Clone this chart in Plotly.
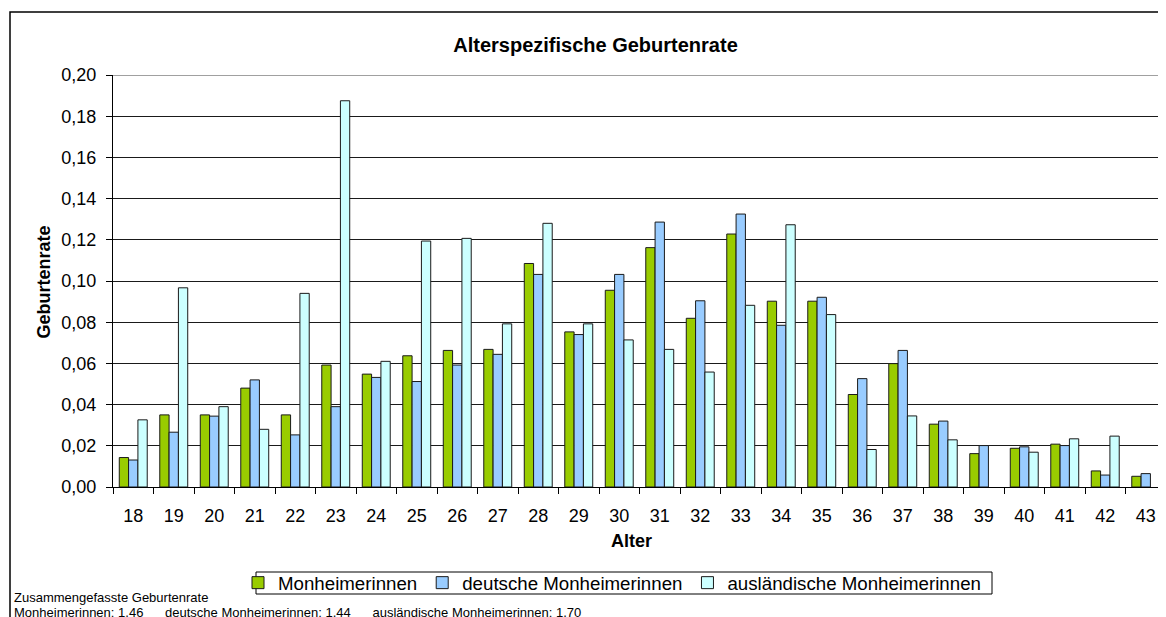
import plotly.graph_objects as go

ages = [str(a) for a in range(18, 44)]

monheimerinnen = [0.0143, 0.0350, 0.0350, 0.0480, 0.0350, 0.0592, 0.0548, 0.0637, 0.0663,
                  0.0668, 0.1085, 0.0753, 0.0955, 0.1162, 0.0819, 0.1228, 0.0902, 0.0902,
                  0.0449, 0.0599, 0.0305, 0.0162, 0.0188, 0.0208, 0.0078, 0.0052]
deutsche = [0.0131, 0.0266, 0.0344, 0.0520, 0.0253, 0.0390, 0.0532, 0.0512, 0.0592,
            0.0644, 0.1032, 0.0740, 0.1032, 0.1286, 0.0904, 0.1325, 0.0785, 0.0921,
            0.0526, 0.0663, 0.0320, 0.0201, 0.0195, 0.0201, 0.0058, 0.0065]
auslaendische = [0.0326, 0.0967, 0.0390, 0.0280, 0.0940, 0.1875, 0.0610, 0.1194, 0.1207,
                 0.0792, 0.1280, 0.0792, 0.0714, 0.0668, 0.0558, 0.0882, 0.1273, 0.0837,
                 0.0182, 0.0345, 0.0229, None, 0.0169, 0.0234, 0.0247, None]

series_names = ["Monheimerinnen", "deutsche Monheimerinnen", "ausländische Monheimerinnen"]
series_colors = ["#99cc00", "#99ccff", "#ccffff"]

gap = "&nbsp;" * 6
summary_title = "Zusammengefasste Geburtenrate"
summary_text = ("Monheimerinnen: 1,46" + gap + "deutsche Monheimerinnen: 1,44" + gap
                + "ausländische Monheimerinnen: 1,70")

FONT = "Liberation Sans, Arial, sans-serif"

# the page body adds an 8px offset, so the figure is 8px smaller and all
# positions below are page pixels mapped onto the plot area (113..1166, 75..487)
W, H = 1158, 609


def px(x):
    return (x - 113) / 1053


def py(y):
    return (487 - y) / 412


fig = go.Figure()
for name, vals, col in zip(series_names, [monheimerinnen, deutsche, auslaendische], series_colors):
    fig.add_trace(go.Bar(
        x=ages, y=vals, name=name,
        marker=dict(color=col, line=dict(color="#1a1a1a", width=1))
    ))

fig.update_layout(
    width=W, height=H,
    margin=dict(l=105, r=0, t=67, b=130),
    paper_bgcolor="white", plot_bgcolor="white",
    font=dict(family=FONT, color="black", size=18),
    separators=",.",
    barmode="group", bargap=0.31, bargroupgap=0,
    title=dict(text="<b>Alterspezifische Geburtenrate</b>", x=(595.5 - 8) / W, xanchor="center",
               y=1 - (45 - 8) / H, yanchor="middle", font=dict(size=20, family=FONT)),
    showlegend=True,
    legend=dict(orientation="h", x=px(238), y=py(583), xanchor="left", yanchor="middle",
                borderwidth=0, bgcolor="rgba(0,0,0,0)",
                font=dict(size=18.7, family=FONT), traceorder="normal"),
    xaxis=dict(type="category", range=[-0.5, 25.5], showline=True, linecolor="black",
               linewidth=1, ticks="outside", tickson="boundaries", ticklen=6,
               tickcolor="black", showgrid=False, tickfont=dict(size=18),
               ticklabelstandoff=12),
    yaxis=dict(range=[0, 0.2], dtick=0.02, tickformat=".2f", showline=True,
               linecolor="black", linewidth=1, ticks="outside", ticklen=6,
               tickcolor="black", showgrid=True, gridcolor="#1a1a1a", gridwidth=1,
               zeroline=False, tickfont=dict(size=18), ticklabelstandoff=6),
    annotations=[
        dict(text="<b>Geburtenrate</b>", textangle=-90, xref="paper", yref="paper",
             x=px(43.5), y=py(282), xanchor="center", yanchor="middle",
             showarrow=False, font=dict(size=18)),
        dict(text="<b>Alter</b>", xref="paper", yref="paper",
             x=px(631), y=py(541), xanchor="center", yanchor="middle",
             showarrow=False, font=dict(size=18)),
        dict(text=summary_title, xref="paper", yref="paper", xanchor="left", yanchor="middle",
             x=px(12), y=py(597), showarrow=False, font=dict(size=13)),
        dict(text=summary_text, xref="paper", yref="paper", xanchor="left", yanchor="middle",
             x=px(12), y=py(612), showarrow=False, font=dict(size=13)),
    ],
    shapes=[
        # outer chart frame (runs off the right and bottom edges)
        dict(type="rect", xref="paper", yref="paper",
             x0=px(10), x1=px(1200), y0=py(650), y1=py(12),
             line=dict(color="black", width=1.5), layer="below"),
        # legend box
        dict(type="rect", xref="paper", yref="paper",
             x0=px(256), x1=px(992), y0=py(594), y1=py(572),
             line=dict(color="black", width=1), layer="above"),
        # plot area top edge is grey
        dict(type="line", xref="paper", yref="y", x0=0, x1=1, y0=0.2, y1=0.2,
             line=dict(color="#808080", width=1.5), layer="above"),
    ],
)

fig.write_html("out.html")
